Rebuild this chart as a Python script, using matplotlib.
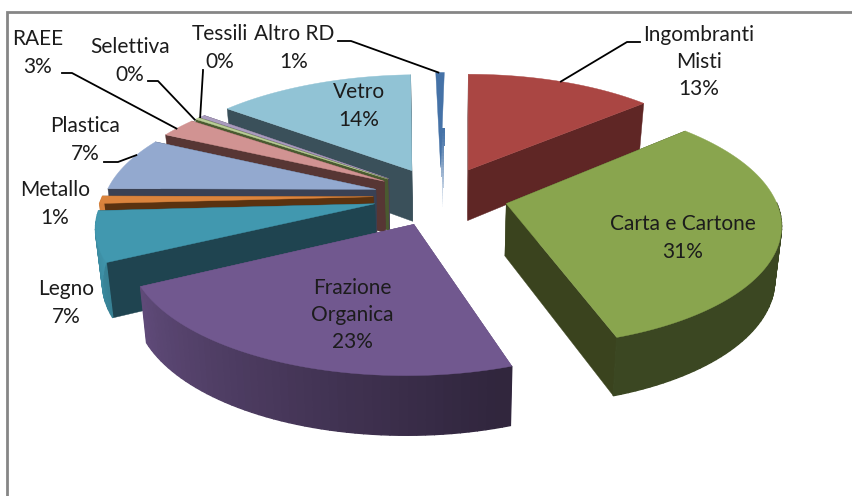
import matplotlib
matplotlib.use('Agg')
import matplotlib.pyplot as plt
from matplotlib.colors import to_rgb
from matplotlib.patches import Polygon
import numpy as np

categories = ['Ingombranti\nMisti', 'Carta e Cartone', 'Frazione\nOrganica', 'Legno', 'Metallo',
              'Plastica', 'RAEE', 'Selettiva', 'Tessili', 'Vetro', 'Altro RD']
values = [13.4, 31.4, 22.7, 6.6, 1.0, 7.1, 2.6, 0.3, 0.4, 13.9, 0.6]

top_colors = ['#AA4643', '#89A54E', '#71588F', '#4198AF', '#DB843D', '#93A9CF',
              '#D19392', '#B9CD96', '#A99BBD', '#91C3D5', '#4572A7']
side_colors = ['#5F2625', '#3A431E', '#5F4A78', '#1F4450', '#5A3210', '#3A4154',
               '#573634', '#4A5A30', '#4A4058', '#3A505A', '#4572A7']

label_pos = [(699, 62), (683, 238), (352, 315), (66, 303), (55, 204), (85, 140),
             (38, 53), (130, 61), (220, 48), (359, 106), (294, 48)]
# elbow of the leader lines, in pixels: (text end, knee, slice index, clock angle on the rim)
leaders = [((640, 42), (627, 42), 0, 24),
           ((338, 41), (351, 41), 10, 358.5),
           ((203, 70), (203, 71), 8, 306.5),
           ((148, 81), (158, 81), 7, 305),
           ((62, 73), (72, 73), 6, 300),
           ((104, 162), (118, 162), 5, 288)]

CX, CY = 441, 196
RX, RY = 268, 118
K = 0.155
EXPLODE = 0.25
DEPTH = 52


def project(u, v, drop=False):
    f = 1 / (1 + K * v)
    x = RX * u * f * (1.01 if u < 0 else 1) + 3.5 * max(v, 0) + 3 * min(v, 0)
    y = CY - RY * v * f
    if drop:
        x = x * 0.98
        y = y + DEPTH * (1 - 0.12 * v)
    return CX + x, y


def rim_point(mid, t, drop=False):
    u = EXPLODE * np.sin(mid) + np.sin(t)
    v = EXPLODE * np.cos(mid) + np.cos(t)
    return project(u, v, drop)


def apex_point(mid, drop=False):
    return project(EXPLODE * np.sin(mid), EXPLODE * np.cos(mid), drop)


def rim_shade(t):
    # outer wall gets darker from the left side round to the front right
    clock = np.degrees(t)
    return np.clip(0.43 + (clock - 165) / 100 * 0.53, 0.43, 1.0)


def main():
    fig = plt.figure(figsize=(8.53, 4.96), dpi=100)
    ax = fig.add_axes([0, 0, 1, 1])
    ax.set_xlim(0, 853)
    ax.set_ylim(496, 0)
    ax.axis('off')

    shares = np.array(values) / sum(values) * 2 * np.pi
    ends = np.cumsum(shares)
    starts = ends - shares
    mids = (starts + ends) / 2

    for i in np.argsort(-np.cos(mids)):
        mid = mids[i]
        ts = np.linspace(starts[i], ends[i], max(int(np.degrees(shares[i]) / 1.5), 2))
        top = np.array(to_rgb(top_colors[i]))
        if i == 10:
            # the thin blue slice fades out towards the bottom
            x0, y0 = apex_point(mid)
            y1 = apex_point(mid, True)[1]
            x0 = x0 + 2
            steps = np.linspace(y0 - 40, y1 - 8, 30)
            for n, (ya, yb) in enumerate(zip(steps[:-1], steps[1:])):
                col = top + (1 - top) * (n / 28) ** 1.3
                w = 1.8 * (1 - n / 28) + 0.4
                ax.add_patch(Polygon([(x0 - w, ya), (x0 + w, ya), (x0 + w, yb + 1), (x0 - w, yb + 1)],
                                     fc=col, ec='none', zorder=1))
        else:
            for t in (starts[i], ends[i]):
                ax.add_patch(Polygon([apex_point(mid), rim_point(mid, t), rim_point(mid, t, True),
                                      apex_point(mid, True)], fc=side_colors[i], ec=side_colors[i], lw=0.3))
        for a, b in zip(ts[:-1], ts[1:]):
            if np.cos((a + b) / 2) < 0 and i != 10:
                col = top * rim_shade((a + b) / 2)
                ax.add_patch(Polygon([rim_point(mid, a), rim_point(mid, b), rim_point(mid, b, True),
                                      rim_point(mid, a, True)], fc=col, ec=col, lw=1))
        outline = [apex_point(mid)] + [rim_point(mid, t) for t in ts]
        ax.add_patch(Polygon(outline, fc=top, ec=top, lw=0.3))

    for name, val, pos in zip(categories, values, label_pos):
        ax.text(pos[0], pos[1], '{}\n{}%'.format(name, round(val)), ha='center', va='center',
                family='Lato', fontsize=15, color='#1c1c1c', linespacing=1.45, zorder=5)

    for start, knee, i, clock in leaders:
        end = rim_point(mids[i], np.radians(clock))
        ax.plot([start[0], knee[0], end[0]], [start[1], knee[1], end[1]], color='black', lw=1.3, zorder=4)

    # chart frame, only top and left are inside the crop
    ax.plot([7, 7, 853], [496, 12, 12], color='#868686', lw=2, solid_joinstyle='miter')

    fig.savefig('out.png', dpi=100)


if __name__ == '__main__':
    main()
